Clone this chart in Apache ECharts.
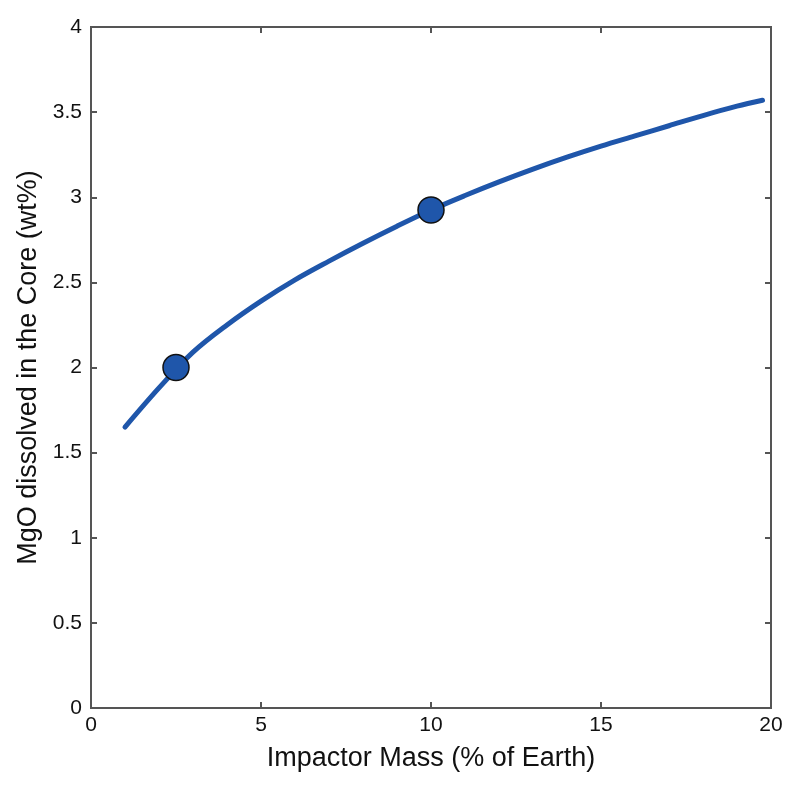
<!DOCTYPE html>
<html>
<head>
<meta charset="utf-8">
<script src="https://cdn.jsdelivr.net/npm/echarts@6/dist/echarts.min.js"></script>
<style>html,body{margin:0;padding:0;background:#fff}#c{width:800px;height:786px}</style>
</head>
<body>
<div id="c"></div>
<script>
var curveX = [1, 2, 3, 4, 5, 6, 7, 8, 9, 10, 11, 12, 13, 14, 15, 16, 17, 18, 19, 19.75];
var curveY = [1.65, 1.88, 2.09, 2.25, 2.39, 2.515, 2.625, 2.73, 2.83, 2.925, 3.01, 3.09, 3.165, 3.235, 3.30, 3.36, 3.42, 3.48, 3.535, 3.57];
var pointX = [2.5, 10];
var pointY = [2.00, 2.925];
var xName = 'Impactor Mass (% of Earth)';
var yName = 'MgO dissolved in the Core (wt%)';

var font = 'Liberation Sans, Arial, Helvetica, sans-serif';
var axisCol = '#555';
function zip(a, b) { return a.map(function (v, i) { return [v, b[i]]; }); }

var tickStyle = { show: true, inside: true, length: 6, lineStyle: { color: axisCol, width: 2 } };
var chart = echarts.init(document.getElementById('c'));
chart.setOption({
  animation: false,
  grid: { left: 91, top: 27, right: 29, bottom: 78, show: true, borderColor: axisCol, borderWidth: 2, backgroundColor: 'transparent' },
  xAxis: [{
    type: 'value', min: 0, max: 20, interval: 5,
    name: xName, nameLocation: 'middle', nameGap: 37,
    nameTextStyle: { fontSize: 27, color: '#111', fontFamily: font },
    axisLine: { show: true, onZero: false, lineStyle: { color: axisCol, width: 2 } },
    axisTick: tickStyle,
    axisLabel: { fontSize: 21, color: '#111', fontFamily: font, margin: 7 },
    splitLine: { show: false }
  }, {
    type: 'value', min: 0, max: 20, interval: 5, position: 'top',
    axisLine: { show: true, onZero: false, lineStyle: { color: axisCol, width: 2 } },
    axisTick: tickStyle,
    axisLabel: { show: false }, splitLine: { show: false }
  }],
  yAxis: [{
    type: 'value', min: 0, max: 4, interval: 0.5,
    name: yName, nameLocation: 'middle', nameGap: 48,
    nameTextStyle: { fontSize: 27, color: '#111', fontFamily: font },
    axisLine: { show: true, onZero: false, lineStyle: { color: axisCol, width: 2 } },
    axisTick: tickStyle,
    axisLabel: { fontSize: 21, color: '#111', fontFamily: font, margin: 9 },
    splitLine: { show: false }
  }, {
    type: 'value', min: 0, max: 4, interval: 0.5, position: 'right',
    axisLine: { show: true, onZero: false, lineStyle: { color: axisCol, width: 2 } },
    axisTick: tickStyle,
    axisLabel: { show: false }, splitLine: { show: false }
  }],
  series: [{
    type: 'line', data: zip(curveX, curveY), smooth: 0.35, showSymbol: false,
    lineStyle: { color: '#1f56aa', width: 5, cap: 'round' }, z: 2
  }, {
    type: 'line', xAxisIndex: 1, yAxisIndex: 1, data: zip(curveX, curveY), showSymbol: false,
    lineStyle: { opacity: 0 }, silent: true, z: 1
  }, {
    type: 'scatter', data: zip(pointX, pointY), symbol: 'circle', symbolSize: 26,
    itemStyle: { color: '#1f56aa', opacity: 1, borderColor: '#111', borderWidth: 1.5 }, z: 3
  }]
});
</script>
</body>
</html>
